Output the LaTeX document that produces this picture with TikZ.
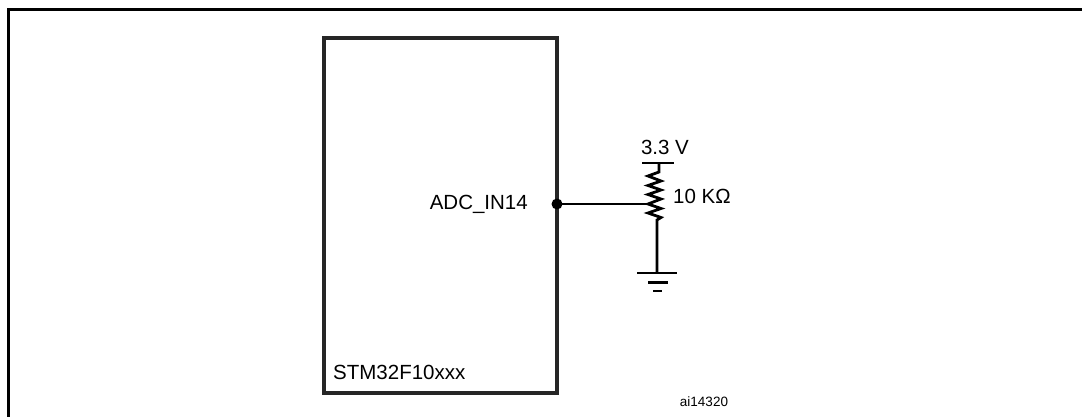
\documentclass[tikz,border=0pt]{standalone}
\usepackage{fontspec}
\setmainfont{Liberation Sans}
\begin{document}
\begin{tikzpicture}[x=1pt,y=-1pt,
  wire/.style={line width=2.8pt,black},
  lbl/.style={font=\fontsize{20.5}{23}\selectfont, inner sep=0pt},
  small/.style={font=\fontsize{13.5}{16}\selectfont, inner sep=0pt}]
\useasboundingbox (0,0) rectangle (1082,417);
% outer frame (cut off at right and bottom)
\draw[line width=3.2pt] (8.5,425) |- (1090,9.5);
% MCU box
\node[draw=black!85, line width=3.2pt, minimum width=233pt, minimum height=355pt, inner sep=0pt] (mcu) at (440.5,215.5) {};
\node[lbl, anchor=west] (mcuname) at (333,372) {STM32F10xxx};
\node[lbl, anchor=east] (adc) at (528,204) {ADC\_IN14};
% pin dot
\node[circle, fill=black, inner sep=0pt, minimum size=11pt] (pin) at (557,204) {};
% potentiometer
\coordinate (wiper) at (648,204);
\coordinate (vtop) at (659,163);
\coordinate (gnd) at (657,273);
\draw[wire] (pin.center) -- (wiper);
\draw[wire] (642,163) -- (674,163);
\draw[wire, line join=miter] (vtop) -- (659,172) -- (648,176) -- (661,181) -- (648,185.5) -- (661,190) -- (648,194.5) -- (661,199) -- (648,204) -- (661,208.5) -- (648,213) -- (661,217.5) -- (657,220) -- (gnd);
% ground symbol
\draw[wire] (637,273) -- (677,273);
\draw[wire] (648,282.5) -- (668,282.5);
\draw[wire] (653,291) -- (662,291);
% labels
\node[lbl] (vlbl) at (665,147) {3.3 V};
\node[lbl, anchor=west] (rlbl) at (673,196) {10 KΩ};
\node[small] (ref) at (704,402) {ai14320};
\end{tikzpicture}
\end{document}
